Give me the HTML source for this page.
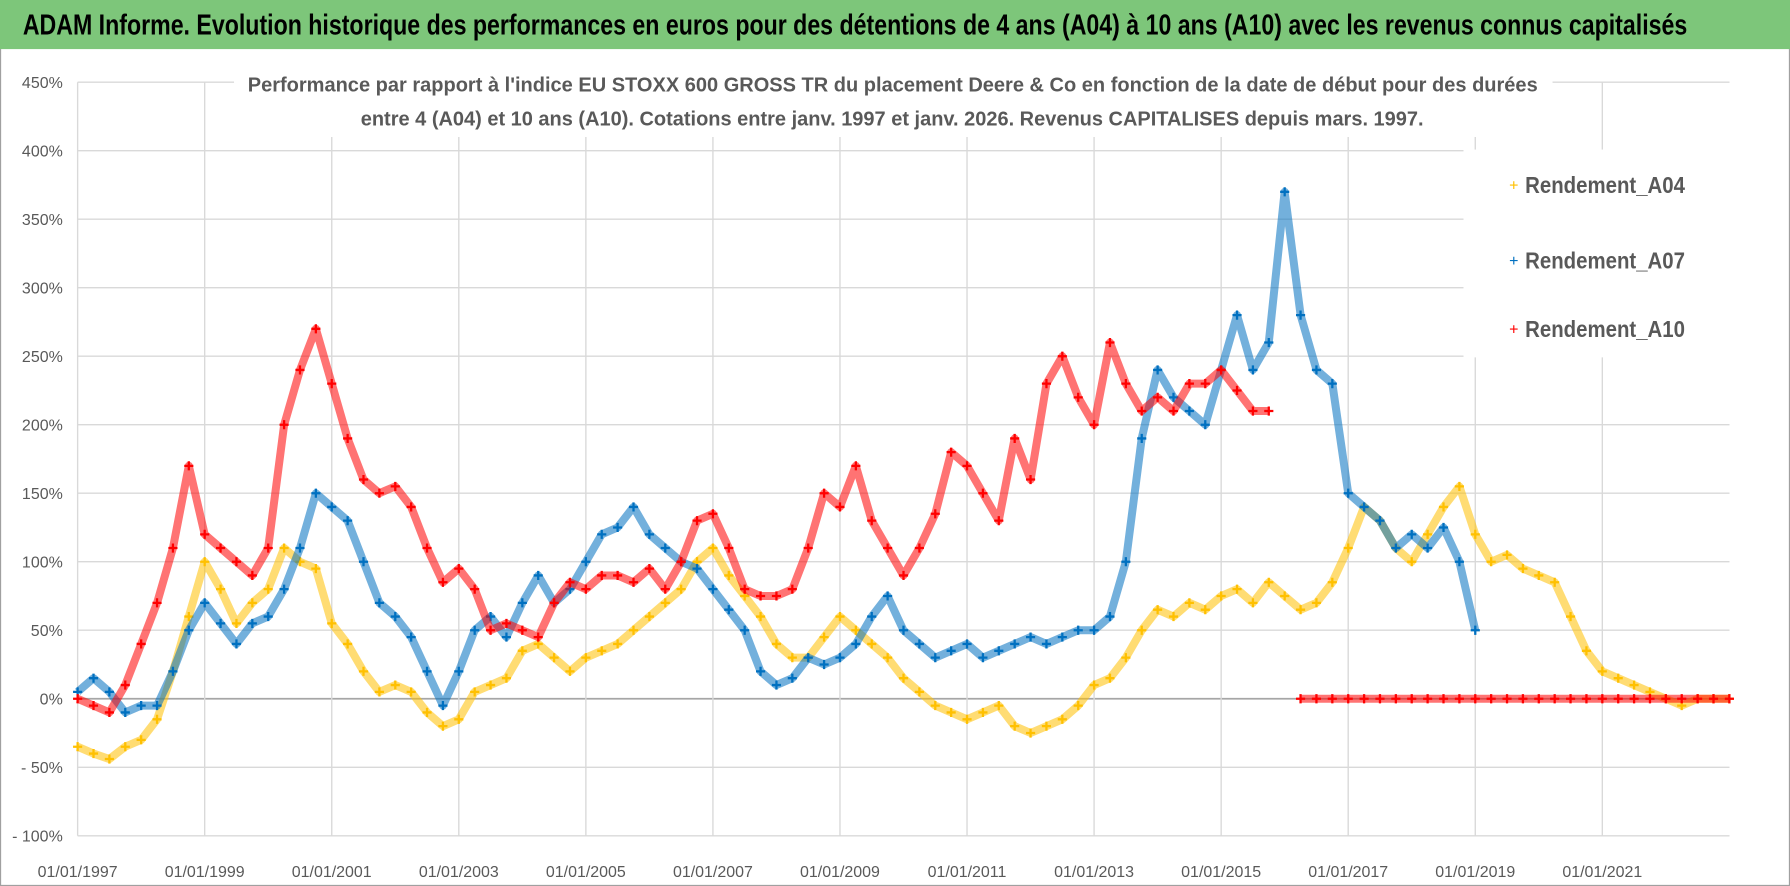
<!DOCTYPE html>
<html><head><meta charset="utf-8"><style>
html,body{margin:0;padding:0;background:#fff;}
svg{display:block;}
text{font-family:"Liberation Sans Narrow","Liberation Sans",sans-serif;}
</style></head><body>
<svg id="chart" width="1790" height="886" viewBox="0 0 1568 776" preserveAspectRatio="none" xmlns="http://www.w3.org/2000/svg">
<rect x="0" y="0" width="1568" height="776" fill="#fff" stroke="#a0a0a0" stroke-width="2"/>
<rect x="0" y="0" width="1568" height="43" fill="#7dc67a"/>
<text x="20" y="30" font-size="25" font-weight="bold" fill="#000" textLength="1458" lengthAdjust="spacingAndGlyphs">ADAM Informe. Evolution historique des performances en euros pour des détentions de 4 ans (A04) à 10 ans (A10) avec les revenus connus capitalisés</text>
<g id="grid"></g>
<g id="yaxis"></g>
<g id="xaxis"></g>
<g id="series"></g>
<rect x="205" y="60" width="1155" height="60" fill="#fff"/>
<text x="217" y="80" font-size="18" font-weight="bold" fill="#595959" textLength="1130" lengthAdjust="spacingAndGlyphs">Performance par rapport à l'indice EU STOXX 600 GROSS TR  du placement Deere &amp; Co en fonction de la date de début pour des durées</text>
<text x="316" y="110" font-size="18" font-weight="bold" fill="#595959" textLength="931" lengthAdjust="spacingAndGlyphs">entre 4 (A04) et 10 ans (A10). Cotations entre janv. 1997 et janv. 2026. Revenus CAPITALISES depuis mars. 1997.</text>
<g>
<rect x="1282" y="131" width="233" height="182" fill="#fff"/>
<text x="1322" y="167" font-size="14" fill="#ffc000">+</text>
<text x="1336" y="169" font-size="20" font-weight="bold" fill="#595959" textLength="140" lengthAdjust="spacingAndGlyphs">Rendement_A04</text>
<text x="1322" y="233" font-size="14" fill="#0070c0">+</text>
<text x="1336" y="235" font-size="20" font-weight="bold" fill="#595959" textLength="140" lengthAdjust="spacingAndGlyphs">Rendement_A07</text>
<text x="1322" y="293" font-size="14" fill="#ff0000">+</text>
<text x="1336" y="295" font-size="20" font-weight="bold" fill="#595959" textLength="140" lengthAdjust="spacingAndGlyphs">Rendement_A10</text>
</g>
</svg>
<script>
const yTicks = [450,400,350,300,250,200,150,100,50,0,-50,-100];
const yTickLabels = ["450%","400%","350%","300%","250%","200%","150%","100%","50%","0%","- 50%","- 100%"];
const xTickYears = [1997,1999,2001,2003,2005,2007,2009,2011,2013,2015,2017,2019,2021];
const xTickLabels = ["01/01/1997","01/01/1999","01/01/2001","01/01/2003","01/01/2005","01/01/2007","01/01/2009","01/01/2011","01/01/2013","01/01/2015","01/01/2017","01/01/2019","01/01/2021"];
const startYear = 1997;
const stepYears = 0.25;
const a04Values = [-35,-40,-44,-35,-30,-15,20,60,100,80,55,70,80,110,100,95,55,40,20,5,10,5,-10,-20,-15,5,10,15,35,40,30,20,30,35,40,50,60,70,80,100,110,90,75,60,40,30,30,45,60,50,40,30,15,5,-5,-10,-15,-10,-5,-20,-25,-20,-15,-5,10,15,30,50,65,60,70,65,75,80,70,85,75,65,70,85,110,140,130,110,100,120,140,155,120,100,105,95,90,85,60,35,20,15,10,5,0,-5,0,0,0];
const a07Values = [5,15,5,-10,-5,-5,20,50,70,55,40,55,60,80,110,150,140,130,100,70,60,45,20,-5,20,50,60,45,70,90,70,80,100,120,125,140,120,110,100,95,80,65,50,20,10,15,30,25,30,40,60,75,50,40,30,35,40,30,35,40,45,40,45,50,50,60,100,190,240,220,210,200,240,280,240,260,370,280,240,230,150,140,130,110,120,110,125,100,50];
const a10Values = [0,-5,-10,10,40,70,110,170,120,110,100,90,110,200,240,270,230,190,160,150,155,140,110,85,95,80,50,55,50,45,70,85,80,90,90,85,95,80,100,130,135,110,80,75,75,80,110,150,140,170,130,110,90,110,135,180,170,150,130,190,160,230,250,220,200,260,230,210,220,210,230,230,240,225,210,210,null,0,0,0,0,0,0,0,0,0,0,0,0,0,0,0,0,0,0,0,0,0,0,0,0,0,0,0,0];

const NS="http://www.w3.org/2000/svg";
const X0=68, PXY=55.65, Y0=612, PXP=1.2;
function xScale(yr){return X0+(yr-startYear)*PXY;}
function yScale(v){return Y0-v*PXP;}
function mk(tag,attrs,parent){const e=document.createElementNS(NS,tag);for(const k in attrs)e.setAttribute(k,attrs[k]);parent.appendChild(e);return e;}
const grid=document.getElementById('grid'),ya=document.getElementById('yaxis'),xa=document.getElementById('xaxis'),ser=document.getElementById('series');
const xEnd=1515;
yTicks.forEach((t,i)=>{
  const y=yScale(t);
  const l=mk('line',{x1:X0,x2:xEnd,y1:y,y2:y,stroke:t===0?'#a6a6a6':'#d9d9d9','stroke-width':t===0?1.5:1.2},grid);
  
  
  const tx=mk('text',{x:55,y:y+5,'font-size':14,fill:'#595959','text-anchor':'end'},ya);
  tx.textContent=yTickLabels[i];
  
  
});
xTickYears.forEach((yr,i)=>{
  const x=xScale(yr);
  const l=mk('line',{x1:x,x2:x,y1:yScale(450),y2:yScale(-100),stroke:'#d9d9d9','stroke-width':1.2},grid);
  
  
  const tx=mk('text',{x:x,y:768,'font-size':14,fill:'#595959','text-anchor':'middle'},xa);
  tx.textContent=xTickLabels[i];
  
  
});
function drawSeries(vals,color,name){
  const g=mk('g',{},ser);
  
  
  let segs=[],cur=[];
  vals.forEach((v,i)=>{
    if(v===null){if(cur.length)segs.push(cur);cur=[];return;}
    cur.push(xScale(startYear+i*stepYears).toFixed(1)+','+yScale(v).toFixed(1));
  });
  if(cur.length)segs.push(cur);
  segs.forEach(s=>mk('polyline',{points:s.join(' '),fill:'none',stroke:color,'stroke-width':7,'stroke-opacity':0.55,'stroke-linejoin':'round'},g));
  vals.forEach((v,i)=>{
    if(v===null)return;
    const x=xScale(startYear+i*stepYears),y=yScale(v);
    const p=mk('path',{d:`M${x-4},${y}H${x+4}M${x},${y-4}V${y+4}`,stroke:color,'stroke-width':2},g);
    
    
  });
}
drawSeries(a04Values,'#ffc000','series-a04');
drawSeries(a07Values,'#0070c0','series-a07');
drawSeries(a10Values,'#ff0000','series-a10');
</script>
</body></html>
